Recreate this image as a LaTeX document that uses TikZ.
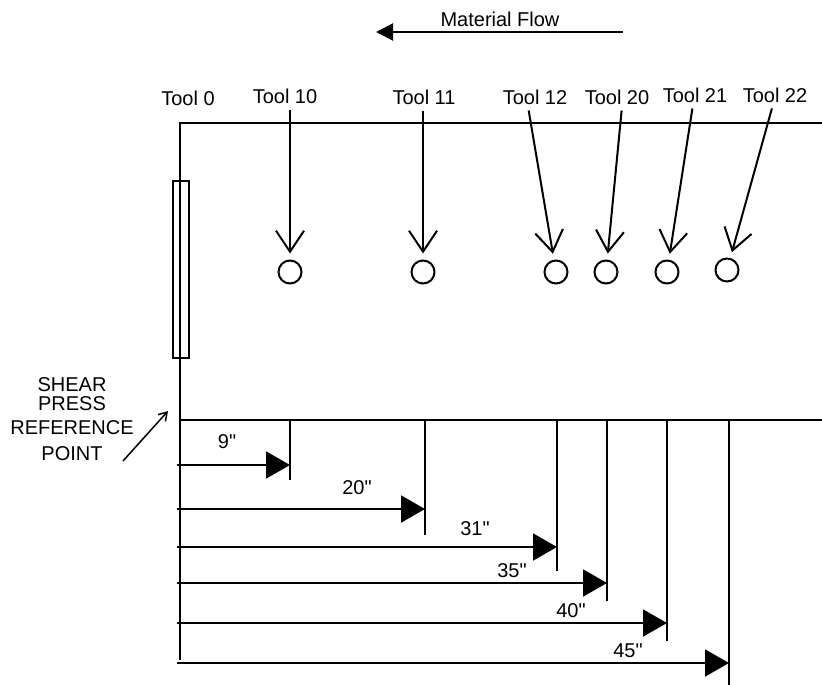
\documentclass[tikz,border=0pt]{standalone}
\usepackage{fontspec}
\setmainfont{Liberation Sans}[Ligatures=TeXOff]
\usepackage{tikz}
\usetikzlibrary{arrows.meta, positioning, calc}
\tikzstyle{lbl} = [inner sep=2pt, font=\fontsize{20}{24}\selectfont]
\tikzstyle{hole} = [circle, draw, line width=2pt, minimum size=23pt, inner sep=0pt]
\tikzstyle{frame} = [line width=2pt]
\tikzstyle{pointer} = [line width=2pt, -{Straight Barb[length=21pt,width=28pt]}, shorten <=4pt, shorten >=6pt]
\tikzstyle{dimarrow} = [line width=2pt, -{Triangle[length=24pt,width=27pt]}]
\tikzstyle{flowarrow} = [line width=2pt, -{Triangle[length=17pt,width=17pt]}]
\newcommand{\inch}{\symbol{34}}

\begin{document}
\begin{tikzpicture}[x=1pt, y=-1pt]
    \useasboundingbox (0,0) rectangle (822,685);

    % Material flow
    \node (flow) [lbl] at (500,19) {Material Flow};
    \coordinate (flowR) at (623,32);
    \coordinate (flowL) at (376,32);
    \draw [flowarrow] (flowR) -- (flowL);

    % Frame
    \coordinate (corner) at (180,123);
    \coordinate (topR) at (822,123);
    \coordinate (base) at (180,660);
    \coordinate (midL) at (180,420);
    \coordinate (midR) at (822,420);
    \draw [frame] (base) -- (corner) -- (topR);
    \draw [frame] (midL) -- (midR);
    \node (press) [rectangle, draw, line width=2pt, minimum width=16pt, minimum height=177pt, inner sep=0pt] at (181,269.5) {};

    % Tool labels
    \node (t0) [lbl] at (188,98) {Tool 0};
    \node (t10) [lbl] at (285,96) {Tool 10};
    \node (t11) [lbl] at (424,97) {Tool 11};
    \node (t12) [lbl] at (535,97) {Tool 12};
    \node (t20) [lbl] at (617,97) {Tool 20};
    \node (t21) [lbl] at (695,95) {Tool 21};
    \node (t22) [lbl] at (775,95) {Tool 22};

    % Holes
    \node (c10) [hole] at (290,272) {};
    \node (c11) [hole] at (423,272) {};
    \node (c12) [hole] at (556,272) {};
    \node (c20) [hole] at (606,272) {};
    \node (c21) [hole] at (667,272) {};
    \node (c22) [hole] at (727,270) {};

    % Pointers
    \draw [pointer] (t10.south -| c10) -- (c10);
    \draw [pointer] (t11.south -| c11) -- (c11);
    \draw [pointer] ([xshift=-7pt]t12.south) -- (c12);
    \draw [pointer] ([xshift=5pt]t20.south) -- (c20);
    \draw [pointer] ([xshift=-2pt]t21.south) -- (c21);
    \draw [pointer] ([xshift=-2pt]t22.south) -- (c22);

    % Reference point
    \node (ref) [lbl, align=center] at (72,419) {SHEAR\\[-5pt]PRESS\\REFERENCE\\[2pt]POINT};
    \coordinate (refA) at (123,461);
    \coordinate (refB) at (168,411);
    \draw [line width=1.5pt, -{Straight Barb[length=8pt,width=10pt]}] (refA) -- (refB);

    % Offset lines
    \coordinate (v9) at (290,420);   \coordinate (v9b) at (290,480);
    \coordinate (v20) at (425,420);  \coordinate (v20b) at (425,535);
    \coordinate (v31) at (557,420);  \coordinate (v31b) at (557,571);
    \coordinate (v35) at (607,420);  \coordinate (v35b) at (607,601);
    \coordinate (v40) at (667,420);  \coordinate (v40b) at (667,641);
    \coordinate (v45) at (729,420);  \coordinate (v45b) at (729,685);
    \draw [frame] (v9) -- (v9b);
    \draw [frame] (v20) -- (v20b);
    \draw [frame] (v31) -- (v31b);
    \draw [frame] (v35) -- (v35b);
    \draw [frame] (v40) -- (v40b);
    \draw [frame] (v45) -- (v45b);

    % Dimensions
    \coordinate (d9) at (177,465);
    \coordinate (d20) at (177,509);
    \coordinate (d31) at (177,547);
    \coordinate (d35) at (177,583);
    \coordinate (d40) at (177,623);
    \coordinate (d45) at (177,663);
    \draw [dimarrow] (d9) -- (d9 -| v9);
    \draw [dimarrow] (d20) -- (d20 -| v20);
    \draw [dimarrow] (d31) -- (d31 -| v31);
    \draw [dimarrow] (d35) -- (d35 -| v35);
    \draw [dimarrow] (d40) -- (d40 -| v40);
    \draw [dimarrow] (d45) -- (d45 -| v45);
    \node (l9) [lbl] at (227,442) {9\inch};
    \node (l20) [lbl] at (357,488) {20\inch};
    \node (l31) [lbl] at (475,529) {31\inch};
    \node (l35) [lbl] at (512,571) {35\inch};
    \node (l40) [lbl] at (571,611) {40\inch};
    \node (l45) [lbl] at (628,651) {45\inch};
\end{tikzpicture}
\end{document}
